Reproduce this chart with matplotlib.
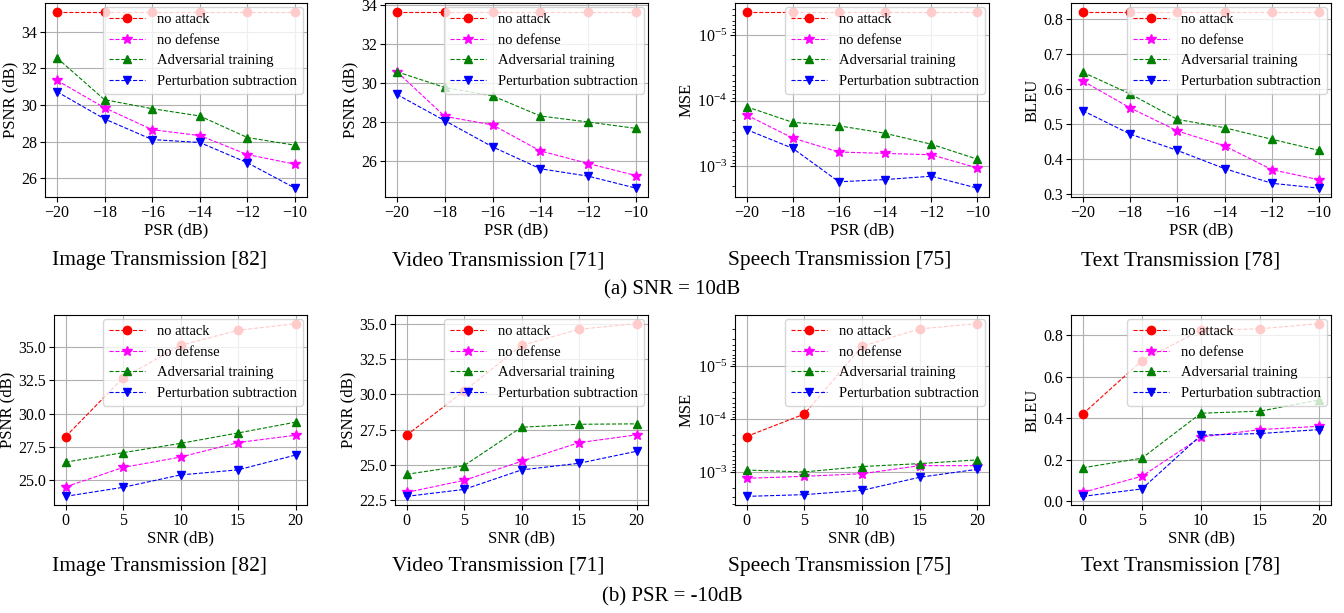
import matplotlib
matplotlib.use('Agg')
import matplotlib.pyplot as plt
from matplotlib.ticker import MultipleLocator

plt.rcParams['font.family'] = 'serif'
plt.rcParams['font.serif'] = ['Liberation Serif', 'DejaVu Serif']
plt.rcParams['mathtext.fontset'] = 'stix'
plt.rcParams['font.size'] = 10

psr = [-20, -18, -16, -14, -12, -10]
snr = [0, 5, 10, 15, 20]
labels = ['no attack', 'no defense', 'Adversarial training', 'Perturbation subtraction']

# (a) SNR = 10dB, x = PSR
img_a = [[35.1] * 6,
         [31.35, 29.85, 28.65, 28.33, 27.29, 26.76],
         [32.58, 30.29, 29.80, 29.40, 28.22, 27.80],
         [30.73, 29.24, 28.11, 27.95, 26.84, 25.45]]
vid_a = [[33.67] * 6,
         [30.58, 28.28, 27.84, 26.50, 25.85, 25.23],
         [30.58, 29.77, 29.34, 28.30, 27.99, 27.66],
         [29.41, 28.06, 26.71, 25.58, 25.20, 24.58]]
sp_a = [[4.4e-6] * 6,
        [1.66e-4, 3.74e-4, 6.11e-4, 6.41e-4, 6.73e-4, 1.07e-3],
        [1.24e-4, 2.15e-4, 2.43e-4, 3.16e-4, 4.64e-4, 7.87e-4],
        [2.77e-4, 5.36e-4, 1.74e-3, 1.61e-3, 1.43e-3, 2.18e-3]]
txt_a = [[0.821] * 6,
         [0.623, 0.546, 0.480, 0.437, 0.369, 0.340],
         [0.648, 0.586, 0.513, 0.489, 0.456, 0.424],
         [0.538, 0.471, 0.424, 0.372, 0.330, 0.316]]

# (b) PSR = -10dB, x = SNR
img_b = [[28.27, 32.68, 35.13, 36.26, 36.76],
         [24.50, 25.96, 26.74, 27.83, 28.38],
         [26.36, 27.07, 27.77, 28.55, 29.36],
         [23.79, 24.47, 25.40, 25.78, 26.89]]
vid_b = [[27.10, 30.22, 33.46, 34.60, 35.00],
         [23.06, 23.91, 25.26, 26.58, 27.13],
         [24.34, 24.95, 27.67, 27.88, 27.91],
         [22.78, 23.27, 24.65, 25.12, 25.97]]
sp_b = [[2.13e-4, 8.0e-5, 4.17e-6, 1.95e-6, 1.55e-6],
        [1.32e-3, 1.21e-3, 1.08e-3, 7.6e-4, 7.6e-4],
        [9.2e-4, 1.0e-3, 7.9e-4, 6.95e-4, 5.9e-4],
        [2.9e-3, 2.69e-3, 2.23e-3, 1.26e-3, 8.9e-4]]
txt_b = [[0.421, 0.679, 0.825, 0.832, 0.857],
         [0.043, 0.121, 0.310, 0.346, 0.362],
         [0.162, 0.208, 0.425, 0.435, 0.489],
         [0.024, 0.060, 0.319, 0.327, 0.346]]

titles = ['Image Transmission [82]', 'Video Transmission [71]',
          'Speech Transmission [75]', 'Text Transmission [78]']
ylabels = ['PSNR (dB)', 'PSNR (dB)', 'MSE', 'BLEU']
styles = [('red', 'o'), ('#ff00ff', '*'), ('green', '^'), ('blue', 'v')]
ysteps_a = [2, 2, None, 0.1]
ysteps_b = [2.5, 2.5, None, 0.2]

W, H = 1344, 613
fig = plt.figure(figsize=(W / 100, H / 100), dpi=100)

# axes boxes in pixels: left, right
top_lr = [(45, 307), (385, 648), (735, 989), (1071, 1331)]
bot_lr = [(54, 307), (395, 648), (735, 989), (1071, 1331)]


def make_axes(lr, top, bottom):
    l, r = lr
    return fig.add_axes([l / W, 1 - bottom / H, (r - l) / W, (bottom - top) / H])


def draw(ax, x, data, ylab, xlab, ystep):
    for (c, m), y, lab in zip(styles, data, labels):
        ms = 7 if m == '*' else 6
        ax.plot(x, y, linestyle='--', color=c, marker=m, markersize=ms,
                linewidth=0.8, label=lab)
    if ystep is None:
        ax.set_yscale('log')
        ax.invert_yaxis()
    else:
        ax.yaxis.set_major_locator(MultipleLocator(ystep))
    ax.set_xticks(x)
    ax.grid(True)
    ax.set_ylabel(ylab, fontsize=12, labelpad=2)
    ax.set_xlabel(xlab, fontsize=12, labelpad=1)
    ax.tick_params(labelsize=11.5, pad=2)
    ax.legend(loc='upper right', fontsize=10.5, framealpha=0.8,
              borderaxespad=0.3, handlelength=2.5)


rows = [(psr, [img_a, vid_a, sp_a, txt_a], ysteps_a, 'PSR (dB)', top_lr, 3, 197),
        (snr, [img_b, vid_b, sp_b, txt_b], ysteps_b, 'SNR (dB)', bot_lr, 315, 505)]
for x, sets, steps, xlab, lrs, t, b in rows:
    for i in range(4):
        ax = make_axes(lrs[i], t, b)
        draw(ax, x, sets[i], ylabels[i], xlab, steps[i])

centers = [159, 498, 840, 1181]
for cx, tt in zip(centers, titles):
    fig.text(cx / W, 1 - 261 / H, tt, ha='center', va='center', fontsize=15.5)
    fig.text(cx / W, 1 - 566 / H, tt, ha='center', va='center', fontsize=15.5)
fig.text(672 / W, 1 - 290 / H, '(a) SNR = 10dB', ha='center', va='center', fontsize=15)
fig.text(672 / W, 1 - 597 / H, '(b) PSR = -10dB', ha='center', va='center', fontsize=15)

fig.savefig('out.png', dpi=100)
